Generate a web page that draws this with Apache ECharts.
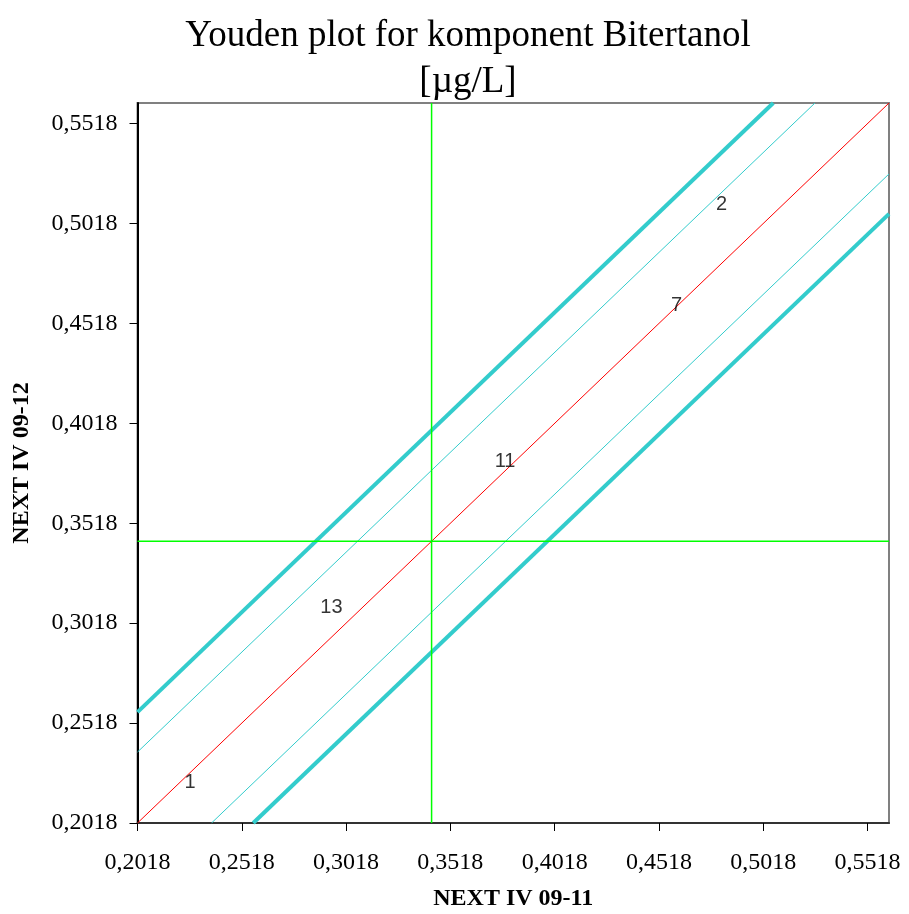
<!DOCTYPE html>
<html>
<head>
<meta charset="utf-8">
<script src="https://cdn.jsdelivr.net/npm/echarts@6/dist/echarts.min.js"></script>
<style>
html,body{margin:0;padding:0;background:#fff;}
#chart{width:909px;height:914px;}
</style>
</head>
<body>
<div id="chart"></div>
<script>
// ---- data ----
const axisMin = 0.2018;
const axisMax = 0.5621;
const tickValues = [0.2018, 0.2518, 0.3018, 0.3518, 0.4018, 0.4518, 0.5018, 0.5518];
const medianX = 0.3428;
const medianY = 0.3428;
const innerOffset = 0.0355;
const outerOffset = 0.0555;
const pointLabels = ['1', '13', '11', '7', '2'];
const pointX = [0.2270, 0.2948, 0.3780, 0.4602, 0.4818];
const pointY = [0.2223, 0.3098, 0.3827, 0.4607, 0.5115];

function diag(d) {
  // line y = x + d clipped to the axis square
  const x0 = Math.max(axisMin, axisMin - d);
  const x1 = Math.min(axisMax, axisMax - d);
  return [[x0, x0 + d], [x1, x1 + d]];
}
const fmt = v => v.toFixed(4).replace('.', ',');

const chart = echarts.init(document.getElementById('chart'), null, {renderer: 'canvas'});
const serif = 'Liberation Serif, Times New Roman, serif';

function lineSeries(data, color, width) {
  return {
    type: 'line', data: data, symbol: 'none', silent: true, animation: false,
    lineStyle: {color: color, width: width}, z: 3
  };
}

const option = {
  backgroundColor: '#ffffff',
  animation: false,
  title: {
    text: 'Youden plot for komponent Bitertanol\n[µg/L]',
    left: 463, top: 8, textAlign: 'center',
    textStyle: {fontFamily: serif, fontSize: 37, fontWeight: 'normal', color: '#000', lineHeight: 46}
  },
  grid: {
    left: 137.5, right: 20, top: 103, bottom: 91,
    outerBoundsMode: 'none', containLabel: false,
    show: true, borderColor: '#808080', borderWidth: 2, backgroundColor: 'transparent'
  },
  xAxis: {
    type: 'value', min: axisMin, max: axisMax,
    name: 'NEXT IV 09-11', nameLocation: 'middle', nameGap: 64,
    nameTextStyle: {fontFamily: serif, fontSize: 24, fontWeight: 'bold', color: '#000'},
    axisLine: {show: true, onZero: false, lineStyle: {color: '#333', width: 2}},
    axisTick: {show: true, length: 8, customValues: tickValues, lineStyle: {color: '#000', width: 1}},
    axisLabel: {customValues: tickValues, formatter: fmt, margin: 28, fontFamily: serif, fontSize: 24, color: '#000'},
    splitLine: {show: false}
  },
  yAxis: {
    type: 'value', min: axisMin, max: axisMax,
    name: 'NEXT IV 09-12', nameLocation: 'middle', nameGap: 104,
    nameTextStyle: {fontFamily: serif, fontSize: 24, fontWeight: 'bold', color: '#000'},
    axisLine: {show: true, onZero: false, lineStyle: {color: '#000', width: 2}},
    axisTick: {show: true, length: 8, customValues: tickValues, lineStyle: {color: '#000', width: 1}},
    axisLabel: {customValues: tickValues, formatter: fmt, margin: 20, fontFamily: serif, fontSize: 24, color: '#000'},
    splitLine: {show: false}
  },
  series: [
    lineSeries(diag(outerOffset), '#33CCCC', 4),
    lineSeries(diag(-outerOffset), '#33CCCC', 4),
    lineSeries(diag(innerOffset), '#33CCCC', 1),
    lineSeries(diag(-innerOffset), '#33CCCC', 1),
    lineSeries(diag(0), '#FF0000', 1),
    lineSeries([[medianX, axisMin], [medianX, axisMax]], '#00FF00', 1.5),
    lineSeries([[axisMin, medianY], [axisMax, medianY]], '#00FF00', 1.5),
    {
      type: 'scatter', symbolSize: 0, silent: true, z: 5,
      data: pointX.map((x, i) => [x, pointY[i], pointLabels[i]]),
      label: {
        show: true, position: 'inside', formatter: p => p.data[2],
        fontFamily: 'Liberation Sans, Arial, sans-serif', fontSize: 20, color: '#000'
      }
    }
  ]
};
chart.setOption(option);
</script>
</body>
</html>
